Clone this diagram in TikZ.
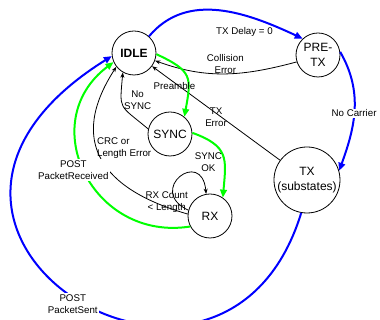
\documentclass[tikz,border=0pt]{standalone}
\usepackage{fontspec}
\setmainfont{Liberation Sans}
\usetikzlibrary{arrows.meta, positioning}
\tikzset{
  state/.style={circle, draw=black, line width=0.6pt, minimum size=33pt, inner sep=0pt, align=center, font=\fontsize{9}{11}\selectfont},
  bigstate/.style={state, minimum size=49.5pt},
  lbl/.style={font=\fontsize{7.3}{9}\selectfont, align=center, inner sep=1pt},
  blk/.style={-{Stealth[length=4pt, width=3pt]}, line width=0.6pt},
  bluearr/.style={-{Triangle[length=6pt, width=5pt]}, line width=1.5pt, draw=blue},
  greenarr/.style={-{Triangle[length=6pt, width=5pt]}, line width=1.5pt, draw=green},
}

\begin{document}
\begin{tikzpicture}[x=0.75pt, y=0.75pt]
\useasboundingbox (0,0) rectangle (380,320);
\clip (0,0) rectangle (380,320);
\node[state, font=\fontsize{9}{11}\selectfont\bfseries] (idle) at (134,267) {IDLE};
\node[state] (pretx) at (318,265) {PRE-\\TX};
\node[bigstate] (tx) at (307,140) {TX\\(substates)};
\node[state] (sync) at (170,186) {SYNC};
\node[state] (rx) at (210,104) {RX};
\draw[bluearr](idle.48) to[out=50, in=155] node[lbl, pos=0.65, below=7pt]{TX Delay = 0}(pretx.133);
\draw[blk](pretx.198) to[out=195, in=-20] node[lbl, pos=0.5, yshift=7pt]{Collision\\Error}(idle.-20);
\draw[bluearr](pretx.8) to[out=-60, in=70] node[lbl, fill=white, pos=0.53]{No Carrier}(tx.16);
\draw[blk](tx) -- node[lbl, yshift=-3pt]{TX\\Error}(idle);
\draw[greenarr](idle.-3) to[out=-25, in=80, looseness=1.5] node[lbl, pos=0.65, left=-7pt]{Preamble}(sync.50);
\draw[blk](sync.167) to[out=140, in=-95, looseness=1.6] node[lbl, pos=0.55, right=0pt, yshift=3pt]{No\\SYNC}(idle.-120);
\draw[greenarr](sync.3) to[out=-20, in=85, looseness=1.4] node[lbl, pos=0.6, left=0pt]{SYNC\\OK}(rx.55);
\draw[blk](rx.165) to[out=155, in=95, looseness=5] node[lbl, pos=0.2, xshift=-5pt, yshift=-4pt]{RX Count\\< Length}(rx.100);
\draw[blk](rx.175) to[out=164, in=-123, looseness=1.4] node[lbl, align=left, pos=0.55, right=-2pt, yshift=3pt]{CRC or\\Length Error}(idle.-142);
\draw[greenarr](rx.208) to[out=189, in=217, looseness=1.4] node[lbl, fill=white, pos=0.5, xshift=-9pt, yshift=2pt]{POST\\PacketReceived}(idle.204);
\draw[bluearr](tx.-100) to[out=-107, in=212, out looseness=2.8, in looseness=3.4] node[lbl, fill=white, pos=0.5, yshift=-5.5pt]{POST\\PacketSent}(idle.188);
\end{tikzpicture}
\end{document}
